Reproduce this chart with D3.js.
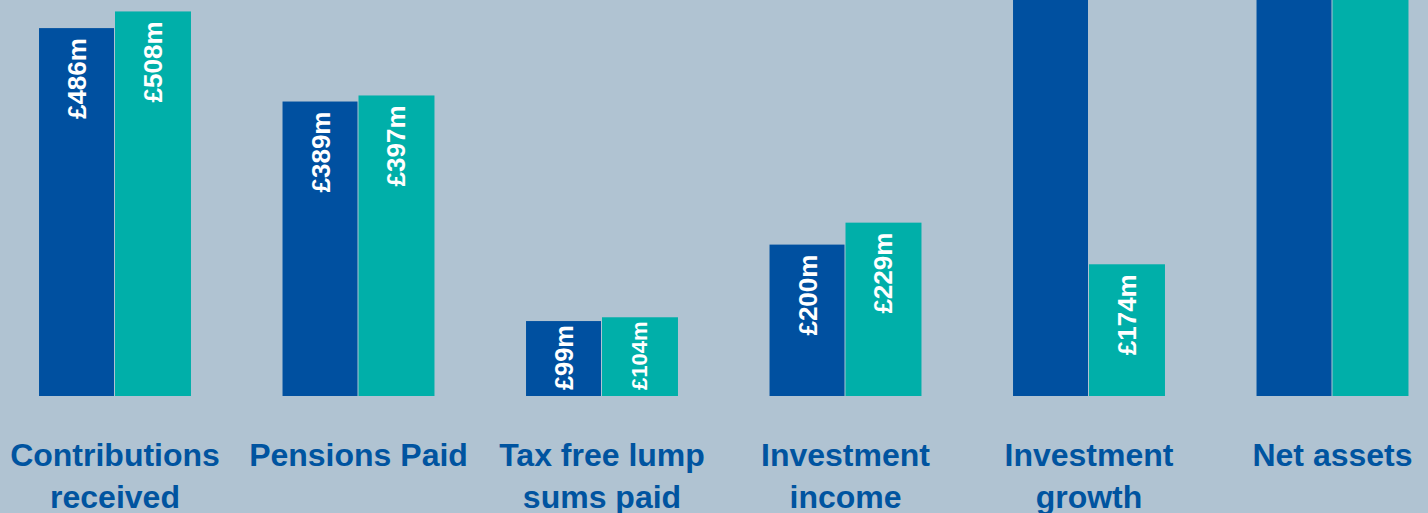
<!DOCTYPE html>
<html>
<head>
<meta charset="utf-8">
<script src="https://cdn.jsdelivr.net/npm/d3@7"></script>
<style>
  html, body { margin: 0; padding: 0; background: #b0c3d2; overflow: hidden; }
  svg { display: block; }
  .cat { font-family: "Liberation Sans", Arial, sans-serif; font-weight: bold; font-size: 32px; fill: #0054a0; }
  .val { font-family: "Liberation Sans", Arial, sans-serif; font-weight: bold; font-size: 26px; fill: #ffffff; }
</style>
</head>
<body>
<svg></svg>
<script>
// data
var categories = [
  ["Contributions", "received"],
  ["Pensions Paid"],
  ["Tax free lump", "sums paid"],
  ["Investment", "income"],
  ["Investment", "growth"],
  ["Net assets"]
];
var series = ["previous", "current"];
var previousValues = [486, 389, 99, 200, 720, 5900];
var currentValues  = [508, 397, 104, 229, 174, 6100];
var colors = ["#0050a0", "#00afa9"];

//begin: layout conf.
var svgWidth = 1428,
    svgHeight = 513,
    baseline = 396,
    pxPerUnit = 0.757,
    step = 243.5,
    firstCenter = 115,
    line1Y = 466,
    lineGap = 42,
    labelOffset = 10,
    valueFont = 26;
//end: layout conf.

var svg = d3.select("svg")
    .attr("width", svgWidth)
    .attr("height", svgHeight);

var x0 = d3.scaleBand()
    .domain(d3.range(categories.length))
    .range([firstCenter - step/2, firstCenter - step/2 + step*categories.length])
    .paddingInner(0.376)
    .paddingOuter(0.188);

var x1 = d3.scaleBand()
    .domain(series)
    .range([0, x0.bandwidth()])
    .padding(0);

var y = d3.scaleLinear()
    .domain([0, baseline/pxPerUnit])
    .range([baseline, 0]);

var rows = categories.map(function(c, i){
  return { i: i, values: [previousValues[i], currentValues[i]] };
});

var fmt = d3.format(",");

var groups = svg.append("g")
    .classed("bars", true)
    .selectAll(".group")
    .data(rows)
    .enter()
      .append("g")
        .classed("group", true)
        .attr("transform", function(d){ return "translate("+[x0(d.i), 0]+")"; });

var bars = groups.selectAll(".bar")
    .data(function(d){ return d.values.map(function(v, k){ return { key: series[k], k: k, v: v }; }); })
    .enter();

bars.append("rect")
    .classed("bar", true)
    .attr("x", function(d){ return x1(d.key); })
    .attr("y", function(d){ return y(d.v); })
    .attr("width", function(d){ return x1.bandwidth() - (d.k === 0 ? 1 : 0); })
    .attr("height", function(d){ return baseline - y(d.v); })
    .style("fill", function(d){ return colors[d.k]; });

// value labels, only where the bar top is on the page (the others run off the top)
var vals = bars.filter(function(d){ return y(d.v) >= 0; })
  .append("text")
    .classed("val", true)
    .attr("text-anchor", "start")
    .attr("dominant-baseline", "central")
    .text(function(d){ return "£" + fmt(d.v) + "m"; });

vals.each(function(d){
  var t = d3.select(this),
      h = baseline - y(d.v),
      len = this.getComputedTextLength(),
      off = labelOffset,
      size = valueFont;
  if (off + len > h - 8) {
    // short bar: pull the label up and shrink it to fit
    off = 4;
    var avail = h - 10;
    if (len > avail) size = valueFont * avail / len;
    len = Math.min(len, avail);
  }
  t.style("font-size", size + "px")
    .attr("transform", "translate("+[x1(d.key) + x1.bandwidth()/2, y(d.v) + off + len]+") rotate(-90)");
});

var labels = svg.append("g")
    .classed("labels", true)
    .selectAll(".cat")
    .data(categories)
    .enter()
      .append("text")
        .classed("cat", true)
        .attr("text-anchor", "middle")
        .attr("x", function(d, i){ return x0(i) + x0.bandwidth()/2; })
        .attr("y", line1Y);

labels.selectAll("tspan")
    .data(function(d){ return d; })
    .enter()
      .append("tspan")
        .attr("x", function(){ return this.parentNode.getAttribute("x"); })
        .attr("y", function(d, j){ return line1Y + j*lineGap; })
        .text(function(d){ return d; });
</script>
</body>
</html>
